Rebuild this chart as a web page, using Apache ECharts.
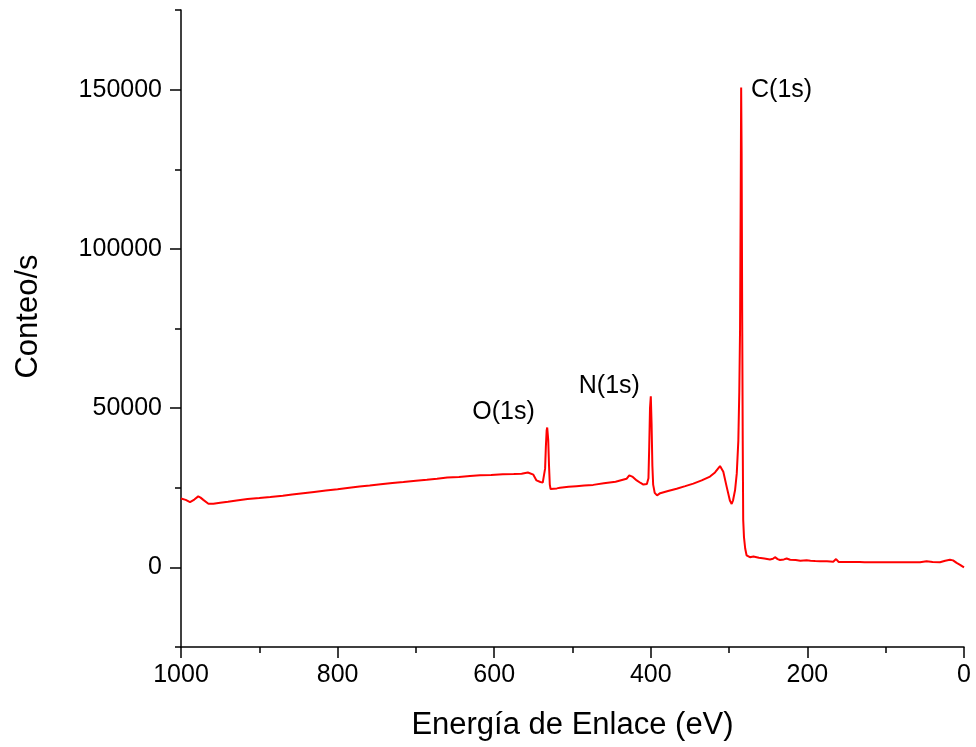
<!DOCTYPE html>
<html>
<head>
<meta charset="utf-8">
<script src="https://cdn.jsdelivr.net/npm/echarts@6/dist/echarts.min.js"></script>
<style>
  html, body { margin: 0; padding: 0; background: #fff; }
  #main { width: 976px; height: 747px; }
</style>
</head>
<body>
<div id="main"></div>
<script>
var energia = [
  1000, 999, 994, 988.5, 983, 978, 975, 971.5, 965, 958.7, 950, 940, 929, 915, 900, 886,
  870, 858, 844, 830, 815, 800, 785, 772, 759, 745, 730, 716, 700, 686, 673, 660,
  645, 631, 618, 604, 589, 575, 565, 557, 550, 546, 541, 538, 536, 535, 534, 533,
  532.3, 531, 530, 529, 528, 526, 520, 516, 505, 495, 485, 473.6, 460, 445, 431, 427.5,
  423, 418, 413, 409.5, 405, 403, 402, 401, 400, 399, 398, 397, 395, 392, 388, 378,
  367, 356, 345.7, 335, 324.4, 318, 311.6, 307.4, 303, 299, 296.7, 295, 293, 292.4, 290.2, 288.2,
  287, 286, 285.3, 284.6, 284, 283.3, 282.6, 282, 281, 279.5, 277.7, 273.4, 269, 262,
  255, 247.8, 244, 241.4, 238, 235, 230, 226.5, 222, 215, 209, 201, 198.6, 196, 190, 183.9,
  175, 167, 163.4, 160, 150, 140, 133, 130.6, 127, 115, 100, 85, 70, 56.2, 47.8, 40,
  30.7, 24, 18, 14, 9.4, 5, 0
];
var conteo = [
  21600, 21500, 21200, 20500, 21300, 22300, 21900, 21200, 20000, 20000, 20300, 20600, 21000, 21500, 21800, 22100,
  22500, 22900, 23300, 23700, 24100, 24500, 25000, 25400, 25700, 26100, 26500, 26800, 27200, 27500, 27800, 28200,
  28400, 28700, 28900, 29000, 29200, 29300, 29400, 29800, 29100, 27300, 26800, 26600, 27000, 31000, 38000, 43000,
  43900, 40000, 32000, 26000, 24600, 24500, 24800, 25000, 25300, 25500, 25700, 25900, 26400, 26900, 27800, 28900,
  28400, 27300, 26500, 26000, 26200, 28000, 38000, 50000, 53700, 45000, 32000, 26000, 23400, 22600, 23300, 24000,
  24700, 25500, 26300, 27300, 28500, 29800, 31800, 30000, 25200, 21000, 19900, 21000, 23500, 24200, 29500, 39800,
  55000, 75000, 110000, 150700, 130000, 80000, 40000, 15000, 9500, 6000, 3800, 3200, 3400, 3000,
  2800, 2500, 2700, 3200, 2600, 2300, 2500, 2800, 2400, 2300, 2100, 2200, 2800, 2100, 2000, 1900,
  1900, 1800, 2600, 1700, 1700, 1700, 1700, 2000, 1600, 1600, 1600, 1600, 1600, 1600, 1900, 1700,
  1600, 2100, 2400, 2200, 1400, 800, 0
];

// etiquetas de los picos (punto = borde izquierdo del texto)
var picoNombres = ['C(1s)', 'O(1s)', 'N(1s)'];
var picoEnergia = [272, 628, 492];
var picoConteo = [150000, 48900, 56800];

var ejeXTicks = [0, 200, 400, 600, 800, 1000];
var ejeYTicks = [0, 50000, 100000, 150000];

var fuente = "'Liberation Sans', Arial, sans-serif";

var chartDom = document.getElementById('main');
var myChart = echarts.init(chartDom, null, { renderer: 'canvas' });

var espectro = energia.map(function (e, i) { return [e, conteo[i]]; });
var picos = picoNombres.map(function (n, i) {
  return { name: n, value: [picoEnergia[i], picoConteo[i]] };
});

var layout = { left: 181, right: 12, top: 10, bottom: 100 };
var negro = { color: '#000', width: 1.5 };

var option = {
  backgroundColor: '#ffffff',
  animation: false,
  grid: [
    Object.assign({}, layout),
    // segundo grid solo para las marcas menores del eje Y
    Object.assign({}, layout)
  ],
  xAxis: [
    {
      type: 'value',
      inverse: true,
      min: 0,
      max: 1000,
      interval: 200,
      name: 'Energía de Enlace (eV)',
      nameLocation: 'middle',
      nameGap: 63,
      nameTextStyle: { fontFamily: fuente, fontSize: 31, color: '#000' },
      axisLine: { show: true, onZero: false, lineStyle: negro },
      axisTick: { show: true, length: 11, lineStyle: negro },
      minorTick: { show: true, splitNumber: 2, length: 6, lineStyle: negro },
      axisLabel: {
        fontFamily: fuente, fontSize: 25, color: '#000', margin: 16,
        formatter: function (v) { return ejeXTicks.indexOf(v) >= 0 ? String(v) : ''; }
      },
      splitLine: { show: false },
      minorSplitLine: { show: false }
    },
    {
      gridIndex: 1,
      type: 'value',
      inverse: true,
      min: 0,
      max: 1000,
      show: false
    }
  ],
  yAxis: [
    {
      type: 'value',
      min: -25000,
      max: 175000,
      interval: 25000,
      name: 'Conteo/s',
      nameLocation: 'middle',
      nameGap: 137,
      nameTextStyle: { fontFamily: fuente, fontSize: 31, color: '#000', padding: [0, 0, 0, 24] },
      axisLine: { show: true, onZero: false, lineStyle: negro },
      axisTick: { show: true, length: 11, customValues: ejeYTicks, lineStyle: negro },
      axisLabel: {
        fontFamily: fuente, fontSize: 25, color: '#000', margin: 19,
        customValues: ejeYTicks,
        formatter: function (v) { return String(v); }
      },
      splitLine: { show: false }
    },
    {
      gridIndex: 1,
      type: 'value',
      position: 'left',
      min: -25000,
      max: 175000,
      interval: 50000,
      axisLine: { show: false, onZero: false },
      axisTick: { show: true, length: 6, lineStyle: negro },
      axisLabel: { show: false },
      splitLine: { show: false }
    }
  ],
  series: [
    {
      name: 'espectro',
      type: 'line',
      data: espectro,
      showSymbol: false,
      symbol: 'none',
      lineStyle: { color: '#ff0000', width: 2 },
      z: 3
    },
    {
      name: 'picos',
      type: 'scatter',
      data: picos,
      symbolSize: 0,
      silent: true,
      itemStyle: { opacity: 1 },
      label: {
        show: true,
        position: 'right',
        distance: 0,
        formatter: '{b}',
        fontFamily: fuente,
        fontSize: 25,
        color: '#000',
        opacity: 1
      }
    }
  ]
};
option && myChart.setOption(option);
</script>
</body>
</html>
